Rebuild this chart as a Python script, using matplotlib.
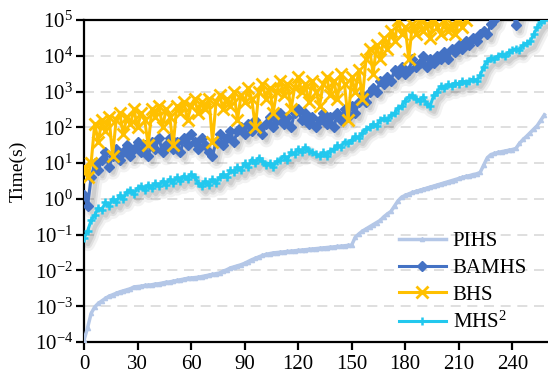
import numpy as np
import matplotlib
matplotlib.use("Agg")
import matplotlib.pyplot as plt
import matplotlib.transforms as mtransforms

plt.rcParams['font.family'] = ['Liberation Serif', 'DejaVu Serif']
plt.rcParams['mathtext.fontset'] = 'custom'
plt.rcParams['mathtext.rm'] = 'Liberation Serif'
plt.rcParams['mathtext.it'] = 'Liberation Serif:italic'

# ============================================================
# DATA (log10 of solving time, every second instance)
# ============================================================

instances = np.arange(0, 260, 2)

log_pihs = [
    -3.95, -3.6, -3.2, -3.02, -2.92, -2.85, -2.78, -2.72, -2.68, -2.64,
    -2.6, -2.57, -2.54, -2.51, -2.46, -2.45, -2.44, -2.42, -2.41, -2.4,
    -2.38, -2.37, -2.35, -2.33, -2.32, -2.3, -2.28, -2.26, -2.24, -2.22,
    -2.21, -2.2, -2.19, -2.17, -2.15, -2.13, -2.11, -2.09, -2.07, -2.02,
    -1.98, -1.93, -1.9, -1.87, -1.84, -1.8, -1.75, -1.7, -1.66, -1.62,
    -1.58, -1.55, -1.53, -1.51, -1.5, -1.49, -1.48, -1.47, -1.46, -1.45,
    -1.44, -1.43, -1.42, -1.41, -1.4, -1.39, -1.38, -1.37, -1.36, -1.35,
    -1.34, -1.33, -1.32, -1.31, -1.3, -1.29, -1.07, -0.98, -0.9, -0.84,
    -0.78, -0.72, -0.66, -0.6, -0.5, -0.42, -0.35, -0.2, -0.05, 0.05,
    0.1, 0.14, 0.18, 0.21, 0.24, 0.27, 0.3, 0.33, 0.36, 0.39,
    0.42, 0.45, 0.48, 0.51, 0.54, 0.57, 0.6, 0.63, 0.65, 0.68,
    0.7, 0.74, 0.95, 1.15, 1.24, 1.27, 1.3, 1.32, 1.34, 1.36,
    1.38, 1.41, 1.55, 1.66, 1.75, 1.85, 1.95, 2.05, 2.2, 2.35,
]

log_bamhs = [
    0.1, -0.2, 0.6, 1.0, 0.8, 1.1, 1.3, 0.9, 1.2, 1.4,
    1.1, 1.3, 1.5, 1.2, 1.4, 1.6, 1.3, 1.5, 1.2, 1.6,
    1.4, 1.7, 1.3, 1.5, 1.7, 1.4, 1.6, 1.3, 1.7, 1.5,
    1.8, 1.6, 1.4, 1.7, 1.5, 1.3, 1.2, 1.6, 1.8, 1.5,
    1.7, 1.9, 1.6, 1.9, 2.0, 1.8, 2.1, 1.9, 2.2, 2.0,
    1.8, 2.1, 2.3, 2.0, 2.2, 2.4, 2.1, 2.3, 2.0, 2.4,
    2.5, 2.2, 2.4, 2.1, 2.3, 2.0, 2.2, 2.4, 2.1, 2.3,
    2.0, 2.4, 2.2, 2.5, 2.3, 2.6, 2.4, 2.7, 2.9, 2.7,
    3.0, 3.1, 3.0, 3.3, 3.2, 3.4, 3.3, 3.6, 3.5, 3.7,
    3.5, 3.6, 3.9, 3.7, 3.8, 4.0, 3.7, 3.9, 3.8, 4.0,
    3.9, 4.1, 3.9, 4.2, 4.1, 4.3, 4.2, 4.4, 4.3, 4.5,
    4.4, 4.6, 4.7, 4.6, 4.9, 5.0, 5.3, 5.3, 5.3, 5.3,
    5.3, 4.85, 5.3, 5.3, 5.3, 5.3, 5.3, 5.3, 5.3, 5.3,
]

log_bhs = [
    0.9, 0.6, 1.0, 2.1, 1.6, 2.2, 1.9, 2.3, 1.2, 2.2,
    2.4, 1.8, 2.3, 2.1, 2.5, 2.0, 2.4, 2.2, 1.5, 2.5,
    2.3, 2.6, 2.0, 2.5, 2.3, 1.5, 2.6, 2.4, 2.7, 2.2,
    2.6, 2.8, 2.4, 2.7, 2.5, 2.8, 1.6, 2.7, 2.9, 2.5,
    2.8, 2.6, 3.0, 2.2, 2.9, 2.7, 3.1, 2.8, 2.0, 3.0,
    3.2, 2.8, 3.1, 2.4, 3.0, 3.3, 2.9, 3.2, 2.5, 3.1,
    3.4, 3.0, 3.2, 2.7, 3.3, 3.0, 2.6, 3.2, 3.4, 2.9,
    3.3, 2.8, 3.5, 3.2, 2.2, 3.4, 3.0, 3.6, 2.8, 3.9,
    4.2, 3.5, 4.3, 3.9, 4.5, 4.2, 4.7, 4.4, 5.0, 4.6,
    4.8, 3.9, 4.9, 4.6, 5.0, 4.7, 4.9, 4.5, 5.0, 4.8,
    4.6, 5.0, 4.7, 4.9, 4.6, 5.0, 4.8, 5.0, 5.3, 5.3,
    5.3, 5.3, 5.3, 5.3, 5.3, 5.3, 5.3, 5.3, 5.3, 5.3,
    5.3, 5.3, 5.3, 5.3, 5.3, 5.3, 5.3, 5.3, 5.3, 5.3,
]

log_mhs2 = [
    -1.1, -0.9, -0.6, -0.45, -0.25, -0.3, -0.1, -0.2, 0.0, -0.1,
    0.1, 0.0, 0.2, 0.25, 0.15, 0.3, 0.35, 0.25, 0.4, 0.3,
    0.45, 0.35, 0.5, 0.4, 0.55, 0.45, 0.6, 0.5, 0.65, 0.55,
    0.7, 0.6, 0.45, 0.35, 0.5, 0.4, 0.55, 0.45, 0.6, 0.7,
    0.6, 0.8, 0.75, 0.9, 0.8, 1.0, 0.9, 1.1, 1.0, 1.15,
    1.05, 0.95, 1.0, 0.9, 1.05, 1.1, 1.2, 1.1, 1.3, 1.25,
    1.4, 1.3, 1.45, 1.35, 1.3, 1.25, 1.2, 1.3, 1.2, 1.35,
    1.4, 1.5, 1.45, 1.6, 1.55, 1.65, 1.75, 1.7, 1.85, 1.95,
    2.0, 2.1, 2.05, 2.2, 2.25, 2.2, 2.35, 2.4, 2.55, 2.6,
    2.75, 2.85, 2.9, 2.8, 2.75, 2.85, 2.65, 2.6, 2.9, 3.0,
    3.15, 3.1, 3.2, 3.15, 3.25, 3.2, 3.3, 3.25, 3.3, 3.35,
    3.3, 3.45, 3.7, 3.85, 3.95, 3.9, 4.0, 4.05, 4.0, 4.1,
    4.15, 4.2, 4.15, 4.3, 4.35, 4.4, 4.6, 4.8, 4.95, 5.0,
]

labels = ["PIHS", "BAMHS", "BHS", "MHS$^2$"]

# ============================================================
# PLOT
# ============================================================

fig = plt.figure(figsize=(5.48, 3.8), dpi=100)
ax = fig.add_axes([84 / 548, 38 / 380, 1 - 84 / 548, 322 / 380])

# soft drop shadow: same data, shifted down-right, wide and faint
shadow_tr = mtransforms.offset_copy(ax.transData, fig=fig, x=4, y=-6, units='dots')
for logs in [log_bamhs, log_mhs2]:
    for lw, a in [(10, 0.05), (6, 0.07), (3, 0.08)]:
        ax.plot(instances, 10 ** np.array(logs), color='k', lw=lw, alpha=a,
                transform=shadow_tr, zorder=2, solid_capstyle='round')

ax.plot(instances, 10 ** np.array(log_pihs), color='#B4C7E7', lw=2.5,
        marker='^', ms=3, label=labels[0], zorder=3)
ax.plot(instances, 10 ** np.array(log_bamhs), color='#4472C4', lw=2.2,
        marker='D', ms=5.5, label=labels[1], zorder=4)
ax.plot(instances, 10 ** np.array(log_bhs), color='#FFC000', lw=2.2,
        marker='x', ms=8, mew=2, label=labels[2], zorder=5)
ax.plot(instances, 10 ** np.array(log_mhs2), color='#22C8EE', lw=2.2,
        marker='+', ms=6, mew=1.8, label=labels[3], zorder=4)

ax.set_yscale('log')
ax.set_ylim(1e-4, 1e5)
ax.set_xlim(0, 260)
ax.set_xticks(np.arange(0, 241, 30))
ax.set_yticks([10.0 ** k for k in range(-4, 6)])
ax.yaxis.set_minor_locator(matplotlib.ticker.NullLocator())

for k in range(-3, 5):
    ax.axhline(10.0 ** k, color='#D9D9D9', lw=1.2, ls=(0, (6, 4)), zorder=1)

ax.spines['right'].set_visible(False)
for s in ['left', 'bottom', 'top']:
    ax.spines[s].set_linewidth(1.6)
ax.tick_params(axis='both', labelsize=15, width=1.6, length=6, direction='out')
ax.tick_params(axis='y', pad=2)
ax.set_ylabel("Time(s)", fontsize=14)
ax.yaxis.set_label_coords(-0.123, 0.53)

ax.legend(loc='lower right', bbox_to_anchor=(0.995, -0.03), frameon=False,
          fontsize=15, handlelength=2.3, labelspacing=0.34, handletextpad=0.3)

fig.savefig("out.png", dpi=100)
